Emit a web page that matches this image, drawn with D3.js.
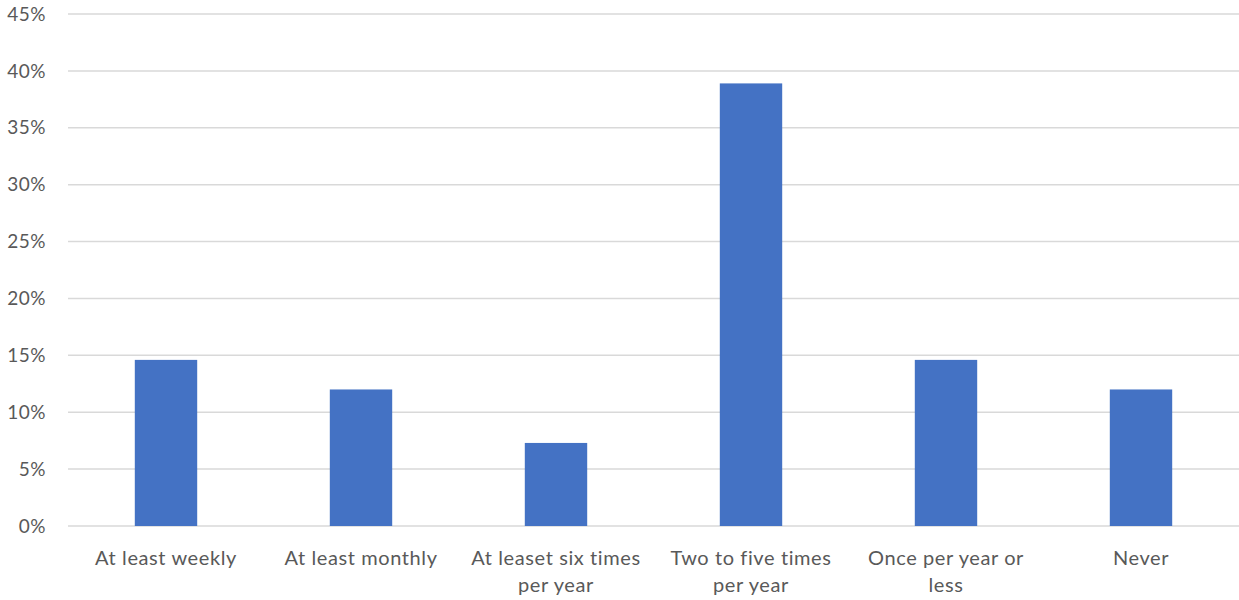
<!DOCTYPE html>
<html><head><meta charset="utf-8">
<script src="https://cdn.jsdelivr.net/npm/d3@7"></script>
<style>html,body{margin:0;background:#fff;overflow:hidden}svg{display:block}text{font-family:Lato,"Liberation Sans",sans-serif;fill:#595959}</style>
</head><body><svg id="c" width="1239" height="600"></svg>
<script>
const categories = ["At least weekly","At least monthly","At leaset six times\nper year","Two to five times\nper year","Once per year or\nless","Never"];
const values = [14.6, 12.0, 7.3, 38.9, 14.6, 12.0];
const yTicks = [0,5,10,15,20,25,30,35,40,45];

const svg = d3.select("#c");
const x = d3.scaleBand().domain(categories).range([68.5,1238.5]).paddingInner(0.68).paddingOuter(0.34);
const y = d3.scaleLinear().domain([0,45]).range([526,14]);

svg.append("g").selectAll("line").data(yTicks).join("line")
  .attr("x1",68).attr("x2",1239).attr("y1",d=>y(d)).attr("y2",d=>y(d))
  .attr("stroke","#d9d9d9").attr("stroke-width",1.5);

svg.append("g").selectAll("text").data(yTicks).join("text")
  .attr("x",46).attr("y",d=>y(d)).attr("dy","0.35em").attr("text-anchor","end")
  .attr("font-size",19).attr("letter-spacing",0.5).text(d=>d+"%");

svg.append("g").selectAll("rect").data(values).join("rect")
  .attr("x",(d,i)=>x(categories[i])).attr("width",x.bandwidth())
  .attr("y",d=>y(d)).attr("height",d=>y(0)-y(d)).attr("fill","#4472c4");

const lab = svg.append("g").selectAll("text").data(categories).join("text")
  .attr("text-anchor","middle").attr("font-size",20).attr("letter-spacing",0.6)
  .attr("transform",d=>`translate(${x(d)+x.bandwidth()/2},565)`);
lab.each(function(d){
  const t=d3.select(this);
  d.split("\n").forEach((s,k)=>t.append("tspan").attr("x",0).attr("y",k*27).text(s));
});
</script></body></html>
